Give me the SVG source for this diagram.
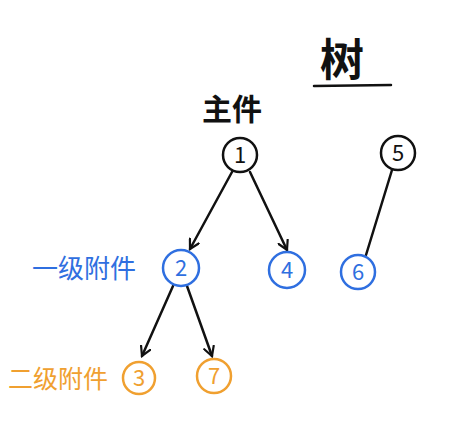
<svg xmlns="http://www.w3.org/2000/svg" width="454" height="440" viewBox="0 0 454 440">
<style>
.n{fill:none;stroke-width:2.5}
.k{stroke:#111}.b{stroke:#2f6fe0}.o{stroke:#f0a030}
.t{font-family:"Noto Sans CJK SC","Liberation Sans",sans-serif;text-anchor:middle}
.e{stroke:#111;stroke-width:2.5;fill:none;stroke-linecap:round}
</style>
<defs>
<marker id="a" viewBox="0 0 12 12" refX="10" refY="6" markerWidth="12" markerHeight="12" markerUnits="userSpaceOnUse" orient="auto">
<path d="M1,1 L10,6 L1,11" fill="none" stroke="#111" stroke-width="2.2" stroke-linecap="round"/>
</marker>
</defs>
<rect width="454" height="440" fill="#fff"/>
<g id="title">
<text class="t" x="342" y="76" font-size="44" font-weight="bold" fill="#111">树</text>
<line x1="314" y1="86" x2="391" y2="85" class="e" stroke-width="3"/>
</g>
<g id="label-main">
<text class="t" x="232" y="120" font-size="30" font-weight="bold" fill="#111">主件</text>
</g>
<g id="label-l1"><text class="t" x="84" y="278" font-size="26" fill="#2f6fe0">一级附件</text></g>
<g id="label-l2"><text class="t" x="58" y="388" font-size="25" fill="#f0a030">二级附件</text></g>
<g id="connectors">
<path class="e" d="M232,172 L190,249" marker-end="url(#a)"/>
<path class="e" d="M250,172 L287,250" marker-end="url(#a)"/>
<path class="e" d="M392,170 L366,255"/>
<path class="e" d="M173,286 L142,356" marker-end="url(#a)"/>
<path class="e" d="M187,286 L212,356" marker-end="url(#a)"/>
</g>
<g id="node1"><circle class="n k" cx="240" cy="155" r="17"/><text class="t" x="240" y="163" font-size="22" fill="#111">1</text></g>
<g id="node5"><circle class="n k" cx="398" cy="153" r="17"/><text class="t" x="398" y="161" font-size="22" fill="#111">5</text></g>
<g id="node2"><circle class="n b" cx="181" cy="268" r="18"/><text class="t" x="181" y="276" font-size="22" fill="#2f6fe0">2</text></g>
<g id="node4"><circle class="n b" cx="287" cy="270" r="18"/><text class="t" x="287" y="278" font-size="22" fill="#2f6fe0">4</text></g>
<g id="node6"><circle class="n b" cx="358" cy="272" r="17"/><text class="t" x="358" y="280" font-size="22" fill="#2f6fe0">6</text></g>
<g id="node3"><circle class="n o" cx="139" cy="378" r="16"/><text class="t" x="139" y="386" font-size="22" fill="#f0a030">3</text></g>
<g id="node7"><circle class="n o" cx="214" cy="376" r="17"/><text class="t" x="214" y="384" font-size="22" fill="#f0a030">7</text></g>
</svg>
